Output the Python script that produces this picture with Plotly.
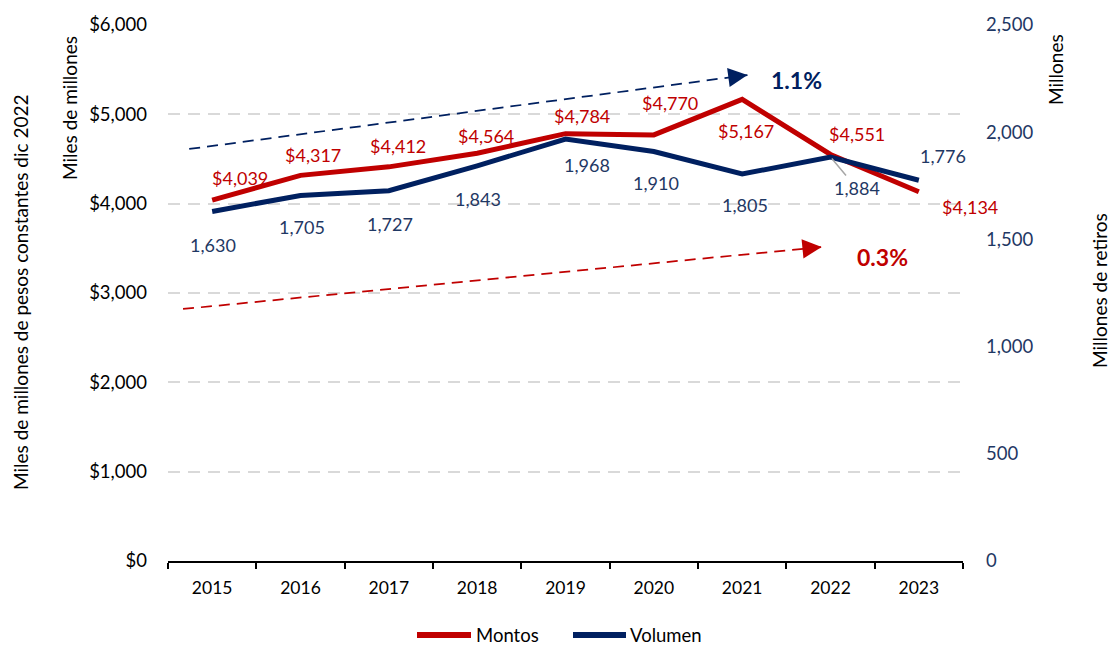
import plotly.graph_objects as go

# Datos anuales
anios = ["2015", "2016", "2017", "2018", "2019", "2020", "2021", "2022", "2023"]
montos = [4039, 4317, 4412, 4564, 4784, 4770, 5167, 4551, 4134]      # miles de millones de pesos
volumen = [1630, 1705, 1727, 1843, 1968, 1910, 1805, 1884, 1776]     # millones de retiros

tasa_volumen = "1.1%"
tasa_montos = "0.3%"

left_ticks = [0, 1000, 2000, 3000, 4000, 5000, 6000]
right_ticks = [0, 500, 1000, 1500, 2000, 2500]

# Desplazamientos (px) de las etiquetas de datos
montos_shift = [(28, 22), (12, 20), (9, 21), (9, 17), (16, 18), (16, 32), (4, -32), (26, 20), (51, -15)]
volumen_shift = [(1, -33), (1, -32), (1, -33), (1, -33), (21, -26), (2, -31), (3, -31), (26, -31), (24, 24)]
# La etiqueta de 2022 (volumen) lleva línea guía
guia_volumen = {7: True}

ROJO = "#C00000"
AZUL = "#002060"
AZUL_TXT = "#1F3864"
FONT = "Lato, Carlito, Noto Sans, sans-serif"

# Área de trazado en píxeles
L, R, T, B = 168, 963, 25, 561
W_FIG, H_FIG = 1113, 648


def px_to_paper(px, py):
    return (px - L) / (R - L), (B - py) / (B - T)


idx = list(range(len(anios)))

fig = go.Figure()
fig.add_trace(go.Scatter(x=idx, y=montos, name="Montos", mode="lines",
                         line=dict(color=ROJO, width=5), yaxis="y", showlegend=False))
fig.add_trace(go.Scatter(x=idx, y=volumen, name="Volumen", mode="lines",
                         line=dict(color=AZUL, width=5), yaxis="y2", showlegend=False))

annotations = []
for i, v, (dx, dy) in zip(idx, montos, montos_shift):
    annotations.append(dict(x=i, y=v, xref="x", yref="y", text=f"&#36;{v:,}", showarrow=False,
                            xshift=dx, yshift=dy, font=dict(color=ROJO, size=18, family=FONT)))
for i, v, (dx, dy) in zip(idx, volumen, volumen_shift):
    if guia_volumen.get(i):
        annotations.append(dict(x=i, y=v, xref="x", yref="y2", text=f"{v:,}", showarrow=True,
                                ax=dx, ay=-dy, arrowhead=0, arrowwidth=1.5, arrowcolor="#A6A6A6",
                                standoff=2, startstandoff=0,
                                font=dict(color=AZUL_TXT, size=18, family=FONT)))
    else:
        annotations.append(dict(x=i, y=v, xref="x", yref="y2", text=f"{v:,}", showarrow=False,
                                xshift=dx, yshift=dy, font=dict(color=AZUL_TXT, size=18, family=FONT)))

# Flechas de tendencia (coordenadas en índice de categoría y eje izquierdo)
tendencias = [
    dict(x0=-0.26, y0=4612, x1=6.06, y1=5440, color=AZUL),
    dict(x0=-0.33, y0=2821, x1=6.90, y1=3515, color=ROJO),
]
shapes = []
for t in tendencias:
    shapes.append(dict(type="line", xref="x", yref="y", x0=t["x0"], y0=t["y0"], x1=t["x1"], y1=t["y1"],
                       line=dict(color=t["color"], width=1.75, dash="11px,7px")))
    fx = (t["x1"] - t["x0"])
    fy = (t["y1"] - t["y0"])
    k = 0.18 / fx
    annotations.append(dict(x=t["x1"], y=t["y1"], ax=t["x1"] - fx * k, ay=t["y1"] - fy * k,
                            xref="x", yref="y", axref="x", ayref="y", text="", showarrow=True,
                            arrowhead=2, arrowsize=2.2, arrowwidth=1.75, arrowcolor=t["color"], standoff=0))

annotations.append(dict(x=6.61, y=5385, xref="x", yref="y", text=f"<b>{tasa_volumen}</b>", showarrow=False,
                        font=dict(color=AZUL, size=23, family=FONT)))
annotations.append(dict(x=7.59, y=3403, xref="x", yref="y", text=f"<b>{tasa_montos}</b>", showarrow=False,
                        font=dict(color=ROJO, size=23, family=FONT)))

# Títulos de ejes
titulos = [
    dict(text="Miles de millones de pesos constantes dic 2022", px=20, py=292),
    dict(text="Miles de millones", px=70, py=108),
    dict(text="Millones", px=1055, py=70),
    dict(text="Millones de retiros", px=1099, py=291),
]
for t in titulos:
    x, y = px_to_paper(t["px"], t["py"])
    annotations.append(dict(x=x, y=y, xref="paper", yref="paper",
                            text=t["text"], textangle=-90, showarrow=False, xanchor="center", yanchor="middle",
                            font=dict(color="#000000", size=19, family=FONT)))

# Leyenda
leyenda = [
    dict(nombre="Montos", color=ROJO, x0=417, x1=471, xt=475),
    dict(nombre="Volumen", color=AZUL, x0=573, x1=626, xt=629),
]
LEY_Y = 635
for item in leyenda:
    xa, ya = px_to_paper(item["x0"], LEY_Y)
    xb, _ = px_to_paper(item["x1"], LEY_Y)
    shapes.append(dict(type="line", xref="paper", yref="paper", x0=xa, y0=ya, x1=xb, y1=ya,
                       line=dict(color=item["color"], width=6)))
    xt, _ = px_to_paper(item["xt"], LEY_Y)
    annotations.append(dict(x=xt, y=ya, xref="paper", yref="paper", text=item["nombre"], showarrow=False,
                            xanchor="left", yanchor="middle", borderpad=0,
                            font=dict(color="#000000", size=18.5, family=FONT)))

fig.update_layout(
    width=W_FIG, height=H_FIG,
    margin=dict(l=L, r=W_FIG - R, t=T, b=H_FIG - B, autoexpand=False),
    paper_bgcolor="white", plot_bgcolor="white",
    font=dict(family=FONT, size=17, color="#000000"),
    showlegend=False,
    xaxis=dict(tickmode="array", tickvals=idx, ticktext=anios, showgrid=False, showline=True,
               linecolor="#000000", linewidth=1.5, ticks="", range=[-0.5, 8.5], zeroline=False,
               tickfont=dict(size=17.5, color="#000000"), ticklabelstandoff=10,
               minor=dict(tickvals=[i - 0.5 for i in range(len(anios) + 1)], ticks="outside",
                          ticklen=6, tickcolor="#000000", tickwidth=1.5, showgrid=False)),
    yaxis=dict(range=[0, 6000], tickvals=left_ticks, ticktext=[f"&#36;{v:,}" for v in left_ticks],
               showgrid=True, gridcolor="#D9D9D9", gridwidth=1.5, griddash="12px,8px",
               zeroline=False, showline=False, ticks="", ticklabelstandoff=20,
               tickfont=dict(size=18.5, color="#000000")),
    yaxis2=dict(range=[0, 2500], tickvals=right_ticks, ticktext=[f"{v:,}" for v in right_ticks],
                overlaying="y", side="right", showgrid=False, zeroline=False, showline=False,
                ticks="", ticklabelstandoff=22, tickfont=dict(size=18.5, color=AZUL_TXT)),
    annotations=annotations,
    shapes=shapes,
)

fig.write_html("out.html")
